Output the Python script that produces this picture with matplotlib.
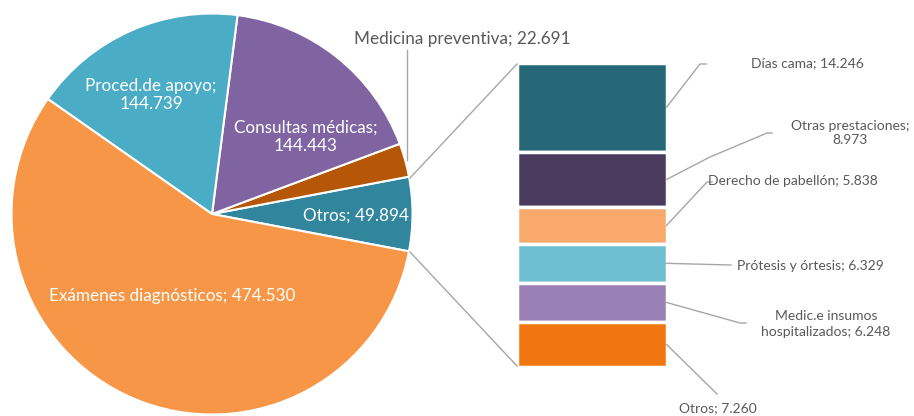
import matplotlib.pyplot as plt

# pie principal
pie_labels = ['Otros', 'Medicina preventiva', 'Consultas médicas', 'Proced.de apoyo', 'Exámenes diagnósticos']
pie_values = [49.894, 22.691, 144.443, 144.739, 474.530]
pie_colors = ['#31859C', '#B65708', '#8064A2', '#4BACC6', '#F79646']

# barra de desglose de "Otros"
bar_labels = ['Días cama', 'Otras prestaciones', 'Derecho de pabellón', 'Prótesis y órtesis',
              'Medic.e insumos hospitalizados', 'Otros']
bar_values = [14.246, 8.973, 5.838, 6.329, 6.248, 7.260]
bar_texts = ['Días cama; 14.246', 'Otras prestaciones;\n8.973', 'Derecho de pabellón; 5.838',
             'Prótesis y órtesis; 6.329', 'Medic.e insumos\nhospitalizados; 6.248', 'Otros; 7.260']
bar_colors = ['#266878', '#4B3B5E', '#F9A96B', '#6FBFD3', '#9980B5', '#F2760F']

plt.rcParams['font.family'] = ['Lato', 'DejaVu Sans']
W, H = 914, 416
fig = plt.figure(figsize=(W / 100, H / 100), dpi=100)
ax = fig.add_axes([0, 0, 1, 1])

def Y(y):  # coordenada de pixel (desde arriba) -> eje
    return H - y

cx, cy, r = 212, Y(214), 200.5
otros_ang = pie_values[0] / sum(pie_values) * 360
ax.pie(pie_values, colors=pie_colors, startangle=-otros_ang / 2, counterclock=True,
       center=(cx, cy), radius=r, frame=True,
       wedgeprops=dict(edgecolor='white', linewidth=1.5))

# barra apilada (de arriba hacia abajo)
bx, bw, btop, bh = 591.5, 150, Y(63), 304
total_bar = sum(bar_values)
top = btop
seg_mid = []
for v, c in zip(bar_values, bar_colors):
    h = v / total_bar * bh
    ax.bar(bx, h, bottom=top - h, width=bw, color=c, edgecolor='white', linewidth=2.5)
    seg_mid.append(top - h / 2)
    top -= h

grey = '#A6A6A6'
txt = '#595959'
# líneas de conexión pie -> barra
ax.plot([410, 517], [Y(178), Y(64)], color=grey, lw=1)
ax.plot([410, 517], [Y(252), Y(366)], color=grey, lw=1)

# etiquetas dentro del pie
fs = 12.3
ax.text(151, Y(95), 'Proced.de apoyo;\n144.739', color='white', fontsize=fs, ha='center', va='center', linespacing=1.2)
ax.text(306, Y(137), 'Consultas médicas;\n144.443', color='white', fontsize=fs, ha='center', va='center', linespacing=1.2)
ax.text(356, Y(216), 'Otros; 49.894', color='white', fontsize=fs, ha='center', va='center')
ax.text(172, Y(296), 'Exámenes diagnósticos; 474.530', color='white', fontsize=fs, ha='center', va='center')

# medicina preventiva
ax.plot([407, 407], [Y(50), Y(160)], color=grey, lw=1)
ax.text(462, Y(39), 'Medicina preventiva; 22.691', color=txt, fontsize=fs, ha='center', va='center')

# etiquetas de la barra con líneas guía
x0 = bx + bw / 2
leaders = [
    [(x0, seg_mid[0]), (700, Y(64)), (706, Y(64))],
    [(x0, seg_mid[1]), (710, Y(157)), (767, Y(133)), (772, Y(133))],
    [(x0, seg_mid[2]), (707, Y(182)), (712, Y(182))],
    [(x0, seg_mid[3]), (731, Y(265))],
    [(x0, seg_mid[4]), (740, Y(323)), (746, Y(323))],
    [(x0, seg_mid[5]), (717, Y(394))],
]
for pts in leaders:
    ax.plot([p[0] for p in pts], [p[1] for p in pts], color=grey, lw=1)

pos = [(807, Y(63)), (850, Y(133)), (793, Y(181)), (810, Y(266)), (826, Y(324)), (718, Y(408))]
for t, (x, y) in zip(bar_texts, pos):
    ax.text(x, y, t, color=txt, fontsize=10, ha='center', va='center', linespacing=1.3)

ax.set_xlim(0, W)
ax.set_ylim(0, H)
ax.set_aspect('auto')
ax.axis('off')
fig.savefig('out.png', dpi=100, facecolor='white')
